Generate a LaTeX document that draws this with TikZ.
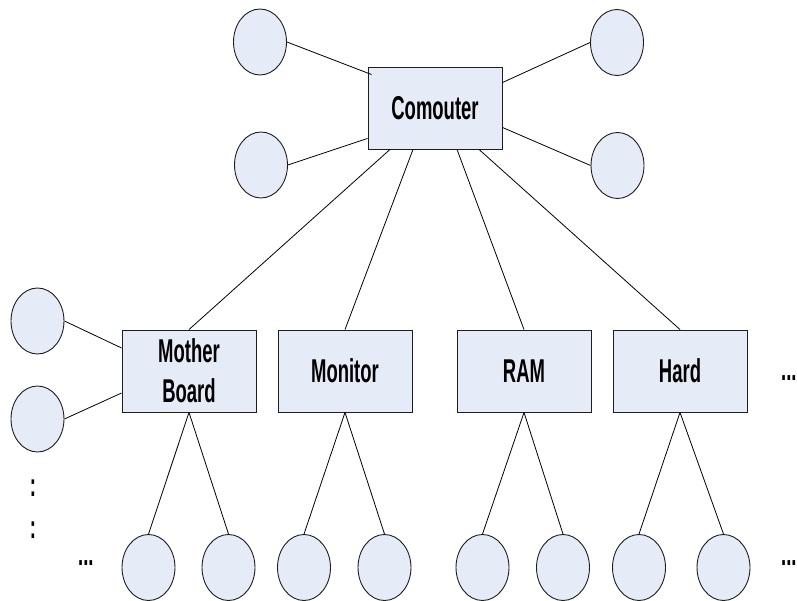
\documentclass[tikz,border=0pt]{standalone}
\usepackage{fontspec}
\setmainfont{Liberation Sans}[FakeStretch=0.56]
\usetikzlibrary{shapes.geometric,calc}
\definecolor{boxfill}{RGB}{230,236,247}
\definecolor{edgecol}{RGB}{30,30,30}
\tikzset{
  partbox/.style={draw=edgecol, fill=boxfill, line width=0.9pt, rectangle,
    minimum width=134pt, minimum height=82pt, inner sep=0pt, align=center,
    font=\fontsize{33}{40}\selectfont\bfseries},
  leaf/.style={draw=edgecol, fill=boxfill, line width=0.9pt, ellipse,
    minimum width=53pt, minimum height=66pt, inner sep=0pt},
  link/.style={draw=black, line width=0.8pt},
  dots/.style={inner sep=0pt, font=\fontsize{33}{40}\selectfont\bfseries}
}
\begin{document}
\begin{tikzpicture}[x=1pt,y=-1pt]
\useasboundingbox (0,0) rectangle (797,601);
% top
\node[partbox] (comp) at (435,108) {Comouter};
\node[leaf] (tl) at (260,42) {};
\node[leaf] (tr) at (617,42.5) {};
\node[leaf] (ml) at (261,165) {};
\node[leaf] (mr) at (617.5,165.5) {};
% second row
\node[partbox] (mb) at (189,371) {Mother\\Board};
\node[partbox] (mon) at (345,371) {Monitor};
\node[partbox] (ram) at (524,371) {RAM};
\node[partbox] (hard) at (680,371) {Hard};
% left leaves of mother board
\node[leaf] (ul) at (37.5,321) {};
\node[leaf] (ll) at (37.5,419) {};
% bottom leaves
\node[leaf] (b1) at (148.5,567.5) {};
\node[leaf] (b2) at (228.5,567.5) {};
\node[leaf] (b3) at (304,567.5) {};
\node[leaf] (b4) at (384.5,567.5) {};
\node[leaf] (b5) at (482.5,567.5) {};
\node[leaf] (b6) at (563,567.5) {};
\node[leaf] (b7) at (639,567.5) {};
\node[leaf] (b8) at (723.5,567.5) {};
% dots
\node[dots, anchor=base west] (d1) at (78,565) {...};
\node[dots, anchor=base west] (d2) at (781,565) {...};
\node[dots, anchor=base west] (d3) at (781,380) {...};
\node[dots, anchor=base] (v1) at (33,496) {:};
\node[dots, anchor=base] (v2) at (33,538) {:};
% connectors around computer
\draw[link] (tl.east) -- ($(comp.north west)+(4,8)$);
\draw[link] (tr.west) -- ($(comp.north east)+(0,16)$);
\draw[link] (ml.east) -- ($(comp.south west)+(0,-11)$);
\draw[link] (mr.west) -- ($(comp.south east)+(0,-22)$);
% computer to parts
\draw[link] ($(comp.south)+(-45,0)$) -- (mb.north);
\draw[link] ($(comp.south)+(-22,0)$) -- (mon.north);
\draw[link] ($(comp.south)+(22,0)$) -- (ram.north);
\draw[link] ($(comp.south)+(44,0)$) -- (hard.north);
% mother board left leaves
\draw[link] (ul.east) -- ($(mb.west)+(0,-23)$);
\draw[link] (ll.east) -- ($(mb.west)+(0,22)$);
% parts to bottom leaves
\draw[link] (mb.south) -- (b1.north);
\draw[link] (mb.south) -- (b2.north);
\draw[link] (mon.south) -- (b3.north);
\draw[link] (mon.south) -- (b4.north);
\draw[link] (ram.south) -- (b5.north);
\draw[link] (ram.south) -- (b6.north);
\draw[link] (hard.south) -- (b7.north);
\draw[link] (hard.south) -- (b8.north);
\end{tikzpicture}
\end{document}
